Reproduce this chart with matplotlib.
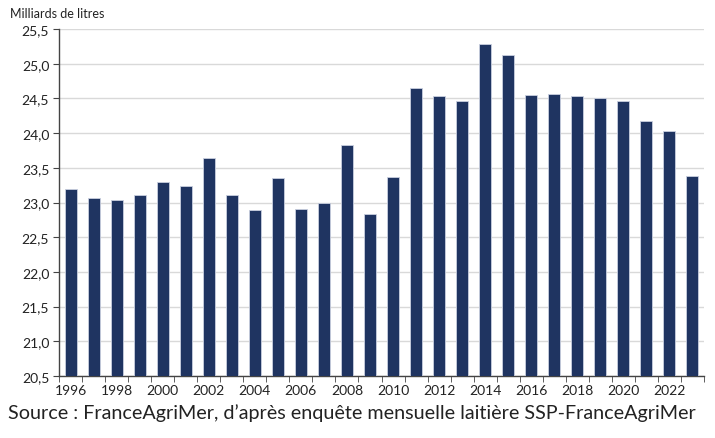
import matplotlib.pyplot as plt
import numpy as np

years = list(range(1996, 2024))
volumes = [23.19, 23.07, 23.04, 23.11, 23.30, 23.24, 23.64, 23.11, 22.89, 23.36,
           22.90, 22.99, 23.83, 22.83, 23.37, 24.65, 24.53, 24.46, 25.29, 25.12,
           24.55, 24.56, 24.53, 24.51, 24.46, 24.18, 24.03, 23.38]
y_ticks = [20.5, 21.0, 21.5, 22.0, 22.5, 23.0, 23.5, 24.0, 24.5, 25.0, 25.5]

plt.rcParams['font.family'] = ['Lato', 'DejaVu Sans']

fig = plt.figure(figsize=(7.15, 4.39), dpi=100)
ax = fig.add_axes([59 / 715, 1 - 377 / 439, 645 / 715, 347 / 439])

x = np.arange(len(years))
ax.bar(x, volumes, width=0.52, color='#1f3461', edgecolor='#c9cfe0', linewidth=0.6, zorder=3)

ax.set_ylim(20.5, 25.5)
ax.set_xlim(-0.5, len(years) - 0.5)
ax.set_yticks(y_ticks)
ax.set_yticklabels([f"{v:.1f}".replace('.', ',') for v in y_ticks], fontsize=10, color='#222222')
ax.yaxis.grid(True, color='#d9d9d9', linewidth=1, zorder=0)

# labels every other year, tick marks between categories
ax.set_xticks(x[::2])
ax.set_xticklabels([str(y) for y in years[::2]], fontsize=10, color='#222222')
ax.tick_params(axis='x', length=0, pad=6)
ax.set_xticks(np.arange(-0.5, len(years), 1), minor=True)
ax.tick_params(axis='x', which='minor', length=4, color='#444444', direction='out')
ax.tick_params(axis='y', length=4, color='#444444', pad=3)

for side in ['top', 'right']:
    ax.spines[side].set_visible(False)
for side in ['left', 'bottom']:
    ax.spines[side].set_color('#444444')
    ax.spines[side].set_linewidth(1)

fig.text(10 / 715, 1 - 14 / 439, 'Milliards de litres', fontsize=9, color='#222222', va='center')
fig.text(8 / 715, 1 - 413 / 439, "Source : FranceAgriMer, d\u2019après enquête mensuelle laitière SSP-FranceAgriMer",
         fontsize=14.2, color='#222222', va='center')

fig.savefig('out.png', dpi=100)
